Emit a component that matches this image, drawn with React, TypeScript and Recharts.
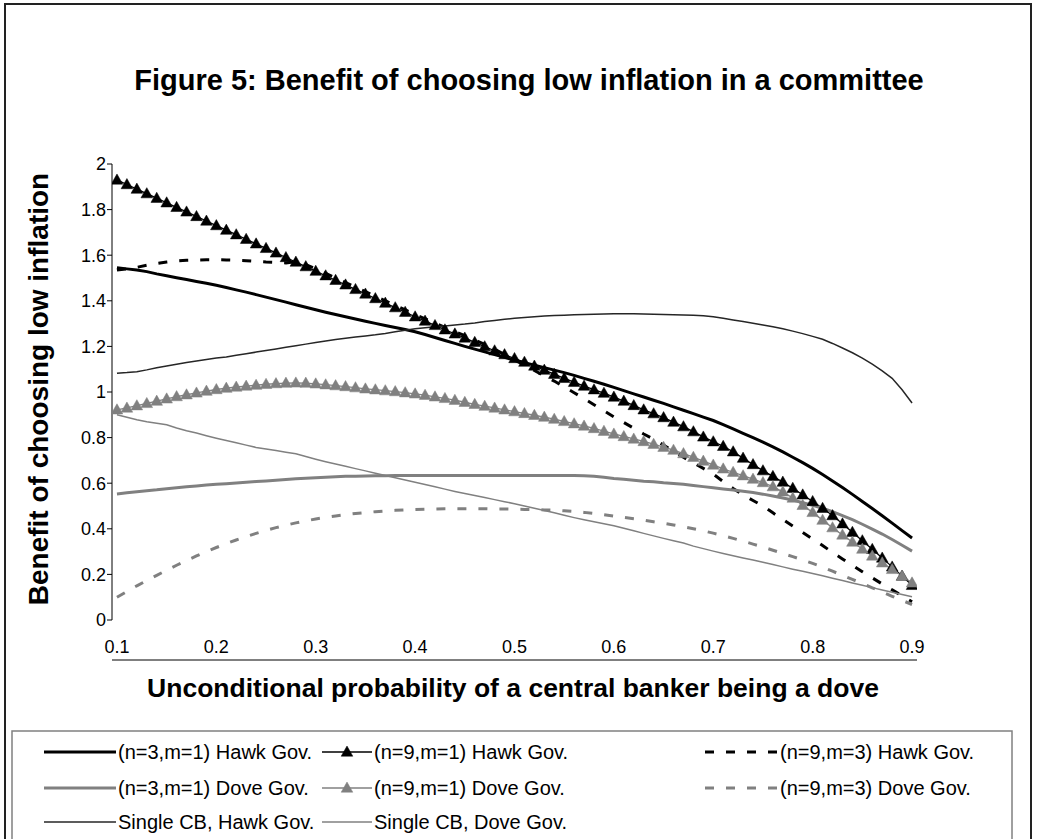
import React from 'react';
import { LineChart, Line, XAxis, YAxis } from 'recharts';

// ---------- data ----------
const X_CATS = [
  0.1, 0.11, 0.12, 0.13, 0.14, 0.15, 0.16, 0.17, 0.18, 0.19,
  0.2, 0.21, 0.22, 0.23, 0.24, 0.25, 0.26, 0.27, 0.28, 0.29,
  0.3, 0.31, 0.32, 0.33, 0.34, 0.35, 0.36, 0.37, 0.38, 0.39,
  0.4, 0.41, 0.42, 0.43, 0.44, 0.45, 0.46, 0.47, 0.48, 0.49,
  0.5, 0.51, 0.52, 0.53, 0.54, 0.55, 0.56, 0.57, 0.58, 0.59,
  0.6, 0.61, 0.62, 0.63, 0.64, 0.65, 0.66, 0.67, 0.68, 0.69,
  0.7, 0.71, 0.72, 0.73, 0.74, 0.75, 0.76, 0.77, 0.78, 0.79,
  0.8, 0.81, 0.82, 0.83, 0.84, 0.85, 0.86, 0.87, 0.88, 0.89,
  0.9,
];

// (n=3,m=1) Hawk Gov.
const N3_HAWK = [
  1.545, 1.54, 1.535, 1.528, 1.518, 1.51, 1.501, 1.493, 1.485, 1.477,
  1.468, 1.458, 1.448, 1.438, 1.427, 1.416, 1.405, 1.394, 1.383, 1.372,
  1.361, 1.35, 1.34, 1.33, 1.32, 1.31, 1.301, 1.292, 1.283, 1.274,
  1.264, 1.252, 1.239, 1.226, 1.213, 1.2, 1.188, 1.176, 1.164, 1.152,
  1.14, 1.129, 1.118, 1.107, 1.096, 1.085, 1.073, 1.06, 1.047, 1.034,
  1.02, 1.006, 0.992, 0.978, 0.964, 0.95, 0.935, 0.92, 0.905, 0.89,
  0.875, 0.857, 0.838, 0.819, 0.8, 0.78, 0.759, 0.737, 0.714, 0.69,
  0.665, 0.638, 0.61, 0.581, 0.551, 0.52, 0.489, 0.457, 0.425, 0.392,
  0.36,
];

// (n=9,m=1) Hawk Gov.
const N9M1_HAWK = [
  1.93, 1.91, 1.89, 1.87, 1.85, 1.83, 1.81, 1.79, 1.77, 1.75,
  1.73, 1.71, 1.69, 1.67, 1.65, 1.63, 1.61, 1.59, 1.57, 1.55,
  1.53, 1.51, 1.49, 1.47, 1.45, 1.43, 1.41, 1.39, 1.37, 1.35,
  1.33, 1.311, 1.292, 1.273, 1.255, 1.237, 1.218, 1.199, 1.181, 1.164,
  1.147, 1.131, 1.114, 1.096, 1.078, 1.06, 1.043, 1.026, 1.01, 0.995,
  0.978, 0.96, 0.941, 0.922, 0.905, 0.888, 0.868, 0.848, 0.826, 0.803,
  0.782, 0.762, 0.738, 0.71, 0.682, 0.655, 0.63, 0.605, 0.578, 0.549,
  0.52, 0.49, 0.458, 0.422, 0.385, 0.348, 0.31, 0.272, 0.233, 0.193,
  0.152,
];

// (n=9,m=3) Hawk Gov.
const N9M3_HAWK = [
  1.535, 1.54, 1.547, 1.556, 1.564, 1.57, 1.575, 1.578, 1.579, 1.58,
  1.58, 1.579, 1.578, 1.576, 1.573, 1.57, 1.568, 1.566, 1.572, 1.558,
  1.54, 1.52, 1.5, 1.48, 1.46, 1.44, 1.42, 1.4, 1.38, 1.36,
  1.34, 1.321, 1.302, 1.283, 1.265, 1.247, 1.228, 1.209, 1.188, 1.164,
  1.14, 1.118, 1.095, 1.07, 1.048, 1.022, 0.997, 0.971, 0.944, 0.918,
  0.891, 0.866, 0.841, 0.816, 0.793, 0.767, 0.74, 0.714, 0.689, 0.665,
  0.64, 0.607, 0.577, 0.549, 0.524, 0.5, 0.47, 0.441, 0.412, 0.384,
  0.355, 0.327, 0.296, 0.268, 0.24, 0.212, 0.185, 0.158, 0.132, 0.106,
  0.08,
];

// (n=3,m=1) Dove Gov.
const N3_DOVE = [
  0.553, 0.558, 0.563, 0.567, 0.571, 0.576, 0.58, 0.584, 0.588, 0.592,
  0.595, 0.598, 0.601, 0.604, 0.607, 0.61, 0.613, 0.616, 0.619, 0.622,
  0.624, 0.626, 0.628, 0.63, 0.631, 0.632, 0.633, 0.633, 0.634, 0.634,
  0.634, 0.634, 0.634, 0.634, 0.634, 0.634, 0.634, 0.634, 0.634, 0.634,
  0.634, 0.634, 0.634, 0.634, 0.634, 0.634, 0.634, 0.633, 0.63, 0.626,
  0.621, 0.617, 0.613, 0.609, 0.606, 0.602, 0.599, 0.595, 0.59, 0.585,
  0.58, 0.575, 0.57, 0.565, 0.559, 0.552, 0.544, 0.535, 0.526, 0.515,
  0.503, 0.49, 0.475, 0.458, 0.44, 0.42, 0.399, 0.377, 0.353, 0.328,
  0.302,
];

// (n=9,m=1) Dove Gov.
const N9M1_DOVE = [
  0.922, 0.93, 0.94, 0.95, 0.96, 0.97, 0.98, 0.988, 0.996, 1.004,
  1.011, 1.017, 1.022, 1.026, 1.03, 1.034, 1.037, 1.039, 1.04, 1.039,
  1.036, 1.032, 1.028, 1.024, 1.019, 1.014, 1.01, 1.006, 1.002, 0.997,
  0.992, 0.986, 0.979, 0.972, 0.964, 0.955, 0.946, 0.938, 0.93, 0.922,
  0.914, 0.906, 0.898, 0.89, 0.881, 0.871, 0.861, 0.851, 0.84, 0.828,
  0.816, 0.805, 0.794, 0.783, 0.771, 0.758, 0.745, 0.73, 0.714, 0.697,
  0.68, 0.663, 0.648, 0.633, 0.618, 0.603, 0.585, 0.562, 0.535, 0.503,
  0.472, 0.438, 0.405, 0.373, 0.342, 0.311, 0.281, 0.251, 0.222, 0.193,
  0.163,
];

// (n=9,m=3) Dove Gov.
const N9M3_DOVE = [
  0.1, 0.125, 0.15, 0.173, 0.196, 0.218, 0.24, 0.261, 0.281, 0.3,
  0.318, 0.335, 0.351, 0.366, 0.38, 0.393, 0.405, 0.416, 0.426, 0.435,
  0.443, 0.45, 0.456, 0.462, 0.467, 0.471, 0.475, 0.478, 0.481, 0.483,
  0.485, 0.486, 0.487, 0.488, 0.488, 0.488, 0.488, 0.488, 0.487, 0.487,
  0.486, 0.485, 0.484, 0.483, 0.482, 0.479, 0.476, 0.472, 0.467, 0.462,
  0.456, 0.45, 0.444, 0.438, 0.431, 0.424, 0.417, 0.409, 0.4, 0.391,
  0.381, 0.37, 0.358, 0.346, 0.333, 0.32, 0.306, 0.292, 0.278, 0.263,
  0.248, 0.232, 0.214, 0.196, 0.178, 0.16, 0.141, 0.123, 0.104, 0.086,
  0.068,
];

// Single CB, Hawk Gov.
const SINGLE_HAWK = [
  1.082, 1.085, 1.089, 1.097, 1.106, 1.114, 1.122, 1.129, 1.136, 1.143,
  1.149, 1.154, 1.161, 1.168, 1.175, 1.182, 1.189, 1.196, 1.203, 1.21,
  1.217, 1.224, 1.23, 1.236, 1.241, 1.246, 1.251, 1.257, 1.264, 1.271,
  1.277, 1.282, 1.286, 1.29, 1.294, 1.298, 1.303, 1.309, 1.314, 1.319,
  1.323, 1.327, 1.33, 1.333, 1.335, 1.337, 1.339, 1.34, 1.341, 1.342,
  1.343, 1.343, 1.343, 1.342, 1.341, 1.34, 1.339, 1.338, 1.337, 1.334,
  1.33, 1.323, 1.316, 1.309, 1.302, 1.294, 1.286, 1.277, 1.267, 1.256,
  1.244, 1.231, 1.213, 1.193, 1.172, 1.149, 1.122, 1.093, 1.06, 1.01,
  0.952,
];

// Single CB, Dove Gov.
const SINGLE_DOVE = [
  0.9, 0.889, 0.878, 0.87, 0.863, 0.856, 0.842, 0.83, 0.82, 0.808,
  0.797, 0.787, 0.777, 0.767, 0.757, 0.75, 0.743, 0.736, 0.729, 0.717,
  0.705, 0.694, 0.684, 0.674, 0.664, 0.654, 0.644, 0.634, 0.624, 0.614,
  0.604, 0.594, 0.584, 0.574, 0.564, 0.555, 0.546, 0.537, 0.528, 0.519,
  0.51, 0.5, 0.49, 0.48, 0.47, 0.459, 0.449, 0.44, 0.431, 0.422,
  0.413, 0.402, 0.391, 0.38, 0.369, 0.358, 0.348, 0.338, 0.324, 0.313,
  0.302, 0.292, 0.282, 0.272, 0.263, 0.253, 0.243, 0.233, 0.223, 0.214,
  0.204, 0.194, 0.183, 0.173, 0.162, 0.152, 0.142, 0.132, 0.122, 0.112,
  0.102,
];

const Y_TICKS = [0, 0.2, 0.4, 0.6, 0.8, 1, 1.2, 1.4, 1.6, 1.8, 2];
const X_LABEL_TICKS = [0.1, 0.2, 0.3, 0.4, 0.5, 0.6, 0.7, 0.8, 0.9];

const TITLE = 'Figure 5: Benefit of choosing low inflation in a committee';
const X_TITLE = 'Unconditional probability of a central banker being a dove';
const Y_TITLE = 'Benefit of choosing low inflation';

const NAMES = [
  '(n=3,m=1) Hawk Gov.',
  '(n=9,m=1) Hawk Gov.',
  '(n=9,m=3) Hawk Gov.',
  '(n=3,m=1) Dove Gov.',
  '(n=9,m=1) Dove Gov.',
  '(n=9,m=3) Dove Gov.',
  'Single CB, Hawk Gov.',
  'Single CB, Dove Gov.',
];

// ---------- derived ----------
const rows = X_CATS.map((x, i) => ({
  x,
  s0: N3_HAWK[i],
  s1: N9M1_HAWK[i],
  s2: N9M3_HAWK[i],
  s3: N3_DOVE[i],
  s4: N9M1_DOVE[i],
  s5: N9M3_DOVE[i],
  s6: SINGLE_HAWK[i],
  s7: SINGLE_DOVE[i],
}));

const half = (X_CATS[1] - X_CATS[0]) / 2;
const BOUNDS: number[] = [X_CATS[0] - half];
for (let i = 0; i < X_CATS.length - 1; i++) BOUNDS.push((X_CATS[i] + X_CATS[i + 1]) / 2);
BOUNDS.push(X_CATS[X_CATS.length - 1] + half);
const X_DOMAIN: [number, number] = [BOUNDS[0], BOUNDS[BOUNDS.length - 1]];

// ---------- styles ----------
const FONT = '"Liberation Sans", Arial, Helvetica, sans-serif';
const BLACK = '#000000';
const GRAY = '#808080';
const DARK = '#262626';
const DASH = '9 12';

type Style = { stroke: string; width: number; dash?: string; marker?: string };
const STYLES: Style[] = [
  { stroke: BLACK, width: 3 },
  { stroke: BLACK, width: 1.3, marker: BLACK },
  { stroke: BLACK, width: 3, dash: DASH },
  { stroke: GRAY, width: 3 },
  { stroke: GRAY, width: 1.3, marker: GRAY },
  { stroke: GRAY, width: 3, dash: DASH },
  { stroke: DARK, width: 1.5 },
  { stroke: GRAY, width: 1.5 },
];

const triPoints = (cx: number, cy: number) =>
  `${cx},${cy - 6} ${cx + 5.8},${cy + 4.2} ${cx - 5.8},${cy + 4.2}`;

const makeTriangle = (fill: string, id: string) => (props: any) => {
  const { cx, cy, index } = props;
  if (cx == null || cy == null) return <g key={`${id}-${index}`} />;
  return <polygon key={`${id}-${index}`} points={triPoints(cx, cy)} fill={fill} stroke={fill} strokeWidth={0.5} />;
};

// legend layout
const LEG_ROWS = [752, 788, 822];
const LEG_COLS = [
  { x1: 44, x2: 116, tx: 118 },
  { x1: 322, x2: 372, tx: 374 },
  { x1: 705, x2: 778, tx: 780 },
];
const LEG_ITEMS = [
  { s: 0, r: 0, c: 0 },
  { s: 1, r: 0, c: 1 },
  { s: 2, r: 0, c: 2 },
  { s: 3, r: 1, c: 0 },
  { s: 4, r: 1, c: 1 },
  { s: 5, r: 1, c: 2 },
  { s: 6, r: 2, c: 0 },
  { s: 7, r: 2, c: 1 },
];

export default function App() {
  return (
    <div style={{ position: 'absolute', left: 0, top: 0, width: 1039, height: 839, background: '#fff', overflow: 'hidden', fontFamily: FONT }}>
      <div style={{ position: 'absolute', left: 0, top: 0 }}>
        <LineChart
          width={1039}
          height={700}
          data={rows}
          margin={{ top: 164, right: 122, bottom: 35, left: 0 }}
        >
          <XAxis
            xAxisId="ticks"
            type="number"
            dataKey="x"
            domain={X_DOMAIN}
            allowDataOverflow
            ticks={BOUNDS}
            interval={0}
            tick={false}
            tickLine={{ stroke: BLACK, strokeWidth: 1 }}
            tickSize={5}
            axisLine={{ stroke: BLACK, strokeWidth: 1 }}
            height={5}
          />
          <XAxis
            xAxisId="labels"
            type="number"
            dataKey="x"
            domain={X_DOMAIN}
            allowDataOverflow
            ticks={X_LABEL_TICKS}
            interval={0}
            tickLine={false}
            axisLine={false}
            tickSize={0}
            tickMargin={20}
            height={40}
            tick={{ fill: BLACK, fontSize: 18, fontFamily: FONT }}
          />
          <YAxis
            type="number"
            domain={[0, 2]}
            ticks={Y_TICKS}
            interval={0}
            width={112}
            tickSize={5}
            tickMargin={1}
            tickLine={{ stroke: BLACK, strokeWidth: 1 }}
            axisLine={{ stroke: BLACK, strokeWidth: 1 }}
            tick={{ fill: BLACK, fontSize: 18, fontFamily: FONT }}
          />
          {STYLES.map((st, i) => (
            <Line
              key={`s${i}`}
              xAxisId="labels"
              type="linear"
              dataKey={`s${i}`}
              name={NAMES[i]}
              stroke={st.stroke}
              strokeWidth={st.width}
              strokeDasharray={st.dash}
              dot={st.marker ? makeTriangle(st.marker, `t${i}`) : false}
              activeDot={false}
              isAnimationActive={false}
            />
          ))}
        </LineChart>
      </div>
      <svg width={1039} height={839} style={{ position: 'absolute', left: 0, top: 0, pointerEvents: 'none' }}>
        <rect x={5} y={4} width={1026} height={900} fill="none" stroke="#222" strokeWidth={2} />
        <text x={529} y={90} textAnchor="middle" fontFamily={FONT} fontWeight="bold" fontSize={29} fill={BLACK}>
          {TITLE}
        </text>
        <text x={513} y={697} textAnchor="middle" fontFamily={FONT} fontWeight="bold" fontSize={26.5} fill={BLACK}>
          {X_TITLE}
        </text>
        <text
          x={0}
          y={0}
          transform={`translate(48, 389) rotate(-90)`}
          textAnchor="middle"
          fontFamily={FONT}
          fontWeight="bold"
          fontSize={28}
          fill={BLACK}
        >
          {Y_TITLE}
        </text>
        <rect x={12} y={731} width={1000} height={200} fill="none" stroke={GRAY} strokeWidth={1.5} />
        {LEG_ITEMS.map((it) => {
          const st = STYLES[it.s];
          const col = LEG_COLS[it.c];
          const y = LEG_ROWS[it.r];
          return (
            <g key={`leg${it.s}`}>
              <line
                x1={col.x1}
                x2={col.x2}
                y1={y}
                y2={y}
                stroke={st.stroke}
                strokeWidth={st.width}
                strokeDasharray={st.dash}
              />
              {st.marker ? (
                <polygon points={triPoints((col.x1 + col.x2) / 2, y)} fill={st.marker} stroke={st.marker} strokeWidth={0.5} />
              ) : null}
              <text x={col.tx} y={y + 7} fontFamily={FONT} fontSize={20} fill={BLACK}>
                {NAMES[it.s]}
              </text>
            </g>
          );
        })}
      </svg>
    </div>
  );
}
